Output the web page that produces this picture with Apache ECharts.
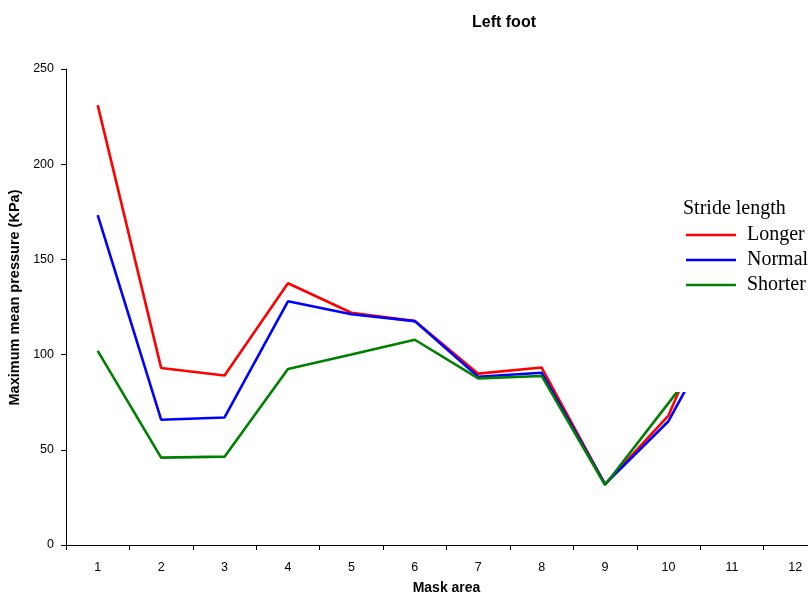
<!DOCTYPE html>
<html>
<head>
<meta charset="utf-8">
<script src="https://cdn.jsdelivr.net/npm/echarts@6/dist/echarts.min.js"></script>
<style>html,body{margin:0;padding:0;background:#fff}#c{width:808px;height:596px}</style>
</head>
<body>
<div id="c"></div>
<script>
const categories = ['1','2','3','4','5','6','7','8','9','10','11','12'];
const longer  = [231, 93, 89, 137.5, 122, 117.6, 90, 93.2, 32, 68, 145, null];
const normal  = [173.3, 65.8, 67, 128, 121.2, 117.6, 88.4, 90.5, 32, 65, 126, null];
const shorter = [102, 45.9, 46.4, 92.4, 100, 107.8, 87.5, 88.8, 31.5, 74.5, 118, null];
const yTicks = [0, 50, 100, 150, 200, 250];

const chart = echarts.init(document.getElementById('c'), null, {renderer: 'canvas'});
const sans = 'Liberation Sans, Arial, sans-serif';
const serif = 'Liberation Serif, Times New Roman, serif';
function mk(name, data, color) {
  return {name, type: 'line', data, symbol: 'none', showSymbol: false, smooth: false, z: 2,
    lineStyle: {color, width: 2.6}, itemStyle: {color}, connectNulls: false};
}
chart.setOption({
  animation: false,
  backgroundColor: '#fff',
  title: {text: 'Left foot', left: 467, top: 10,
    textStyle: {fontFamily: sans, fontSize: 16, fontWeight: 'bold', color: '#000'}},
  grid: {left: 66, top: 69, bottom: 51, right: -19, containLabel: false, outerBoundsMode: 'none'},
  legend: {
    left: 672, top: 190, orient: 'vertical', z: 10,
    backgroundColor: '#fff',
    padding: [35, 60, 97, 14],
    itemGap: 5, itemWidth: 50, itemHeight: 20,
    icon: 'path://M0,0 L50,0 L50,2.6 L0,2.6 Z',
    data: ['Longer', 'Normal', 'Shorter'],
    textStyle: {fontFamily: serif, fontSize: 20, color: '#000', padding: [0, 0, 0, 6]}
  },
  graphic: [{type: 'text', left: 683, top: 199, z: 100,
    style: {text: 'Stride length', font: '20px ' + serif, fill: '#000'}}],
  xAxis: {
    type: 'category', data: categories, boundaryGap: true,
    name: 'Mask area', nameLocation: 'middle', nameGap: 36,
    nameTextStyle: {fontFamily: sans, fontSize: 14, fontWeight: 'bold', color: '#000'},
    axisLine: {lineStyle: {color: '#000', width: 1}},
    axisTick: {show: true, length: 5, alignWithLabel: false, lineStyle: {color: '#000'}},
    axisLabel: {fontFamily: sans, fontSize: 12.5, color: '#000', margin: 16}
  },
  yAxis: {
    type: 'value', min: yTicks[0], max: yTicks[yTicks.length - 1], interval: 50,
    name: 'Maximum mean pressure (KPa)', nameLocation: 'middle', nameGap: 41,
    nameTextStyle: {fontFamily: sans, fontSize: 14.5, fontWeight: 'bold', color: '#000', padding: [0, 0, 0, 19]},
    axisLine: {show: true, lineStyle: {color: '#000', width: 1}},
    axisTick: {show: true, length: 5, lineStyle: {color: '#000'}},
    splitLine: {show: false},
    axisLabel: {fontFamily: sans, fontSize: 12.5, color: '#000', margin: 12}
  },
  series: [mk('Longer', longer, '#ff0000'), mk('Normal', normal, '#0000ff'), mk('Shorter', shorter, '#008000')]
});
</script>
</body>
</html>
